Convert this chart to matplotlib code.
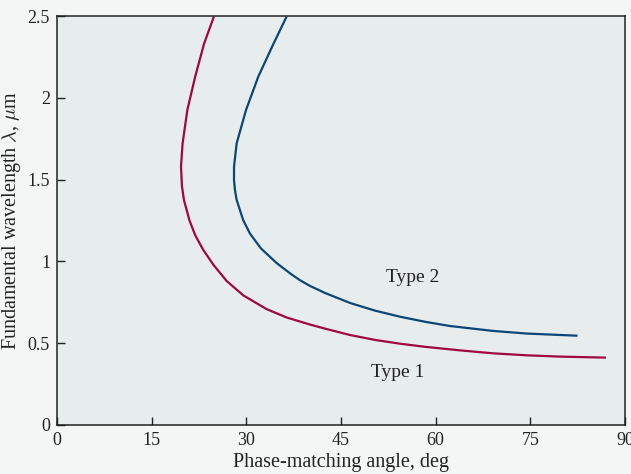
import numpy as np
import matplotlib.pyplot as plt

# curves: (phase-matching angle in deg, wavelength in um)
type1_angle = [24.8, 23.3, 21.9, 20.65, 19.9, 19.65, 19.8, 20.12, 20.97, 21.9, 23.18, 24.77,
               26.89, 29.53, 33.23, 36.4, 40.09, 42.47, 46.43, 50.39, 54.35, 58.3, 63.9,
               69.1, 74.4, 79.7, 86.8]
type1_wl = [2.49, 2.33, 2.13, 1.925, 1.72, 1.58, 1.46, 1.375, 1.253, 1.16, 1.070, 0.980,
            0.880, 0.792, 0.708, 0.657, 0.614, 0.589, 0.550, 0.520, 0.497, 0.478, 0.456,
            0.438, 0.426, 0.418, 0.412]

type2_angle = [36.3, 34.3, 31.9, 29.95, 28.47, 28.05, 28.05, 28.2, 28.47, 29.5, 30.58, 32.3,
               34.8, 37.0, 38.5, 40.09, 42.47, 46.43, 50.39, 54.35, 58.31, 62.27, 69.1,
               74.4, 82.3]
type2_wl = [2.49, 2.33, 2.13, 1.925, 1.722, 1.579, 1.498, 1.436, 1.375, 1.253, 1.17, 1.08,
            0.99, 0.925, 0.885, 0.850, 0.807, 0.746, 0.699, 0.662, 0.631, 0.605, 0.575,
            0.559, 0.546]

xticks = [0, 15, 30, 45, 60, 75, 90]
yticks = [0, 0.5, 1, 1.5, 2, 2.5]
ytick_labels = ['0', '0.5', '1', '1.5', '2', '2.5']

plt.rcParams['font.family'] = ['Liberation Serif', 'DejaVu Serif']
plt.rcParams['mathtext.fontset'] = 'cm'

fig = plt.figure(figsize=(6.31, 4.74), dpi=100, facecolor='#f4f6f6')
ax = fig.add_axes([0.0903, 0.1034, 0.9002, 0.8628])
ax.set_facecolor('#e7eced')

ax.plot(type1_angle, type1_wl, color='#a0073f', lw=1.6, solid_joinstyle='round')
ax.plot(type2_angle, type2_wl, color='#0b4677', lw=1.6, solid_joinstyle='round')

ax.text(56.4, 0.90, 'Type 2', fontsize=14, color='#222222', ha='center', va='center')
ax.text(54.0, 0.32, 'Type 1', fontsize=14, color='#222222', ha='center', va='center')

ax.set_xlim(0, 90)
ax.set_ylim(0, 2.5)
ax.set_xticks(xticks)
ax.set_yticks(yticks)
ax.set_yticklabels(ytick_labels)
ax.tick_params(direction='in', length=6, width=1, labelsize=13, colors='#222222', pad=5)

for s in ax.spines.values():
    s.set_color('#222222')
    s.set_linewidth(1.1)

ax.set_xlabel('Phase-matching angle, deg', fontsize=14.5, color='#222222', labelpad=3)
ax.set_ylabel(r'Fundamental wavelength $\lambda$, $\mu$m', fontsize=14.5, color='#222222', labelpad=3)

plt.savefig('out.png', dpi=100, facecolor=fig.get_facecolor())
